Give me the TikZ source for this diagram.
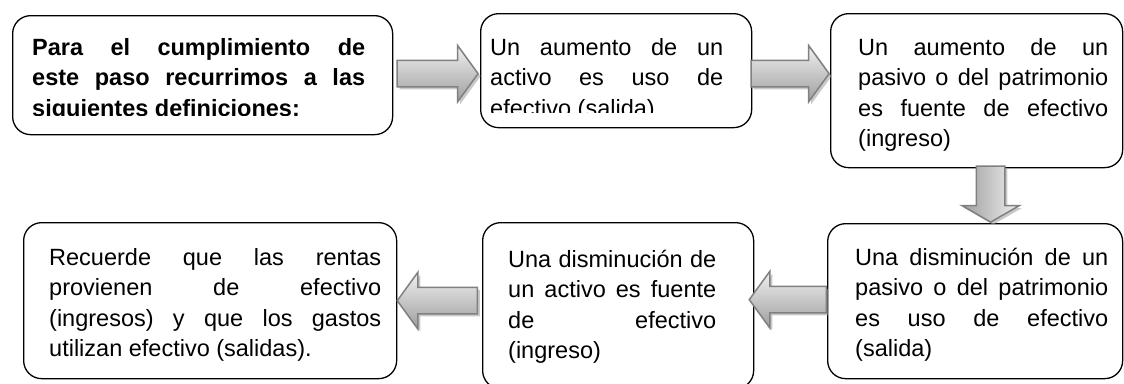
\documentclass[tikz,border=0pt]{standalone}
\usepackage{fontspec}
\setmainfont{Liberation Sans}
\usetikzlibrary{shapes.arrows,shadows,calc}
\newcommand\flowfont{\fontsize{23.5}{30.5}\selectfont}
\tolerance=10000 \hbadness=10000
\hyphenpenalty=10000 \exhyphenpenalty=10000

\begin{document}
\begin{tikzpicture}[x=1pt,y=-1pt,
  box/.style={draw,line width=1.3pt,rounded corners=18pt,anchor=north west,inner sep=0pt},
  txt/.style={anchor=base west,inner sep=0pt,align=justify,font=\flowfont},
  big arrow/.style={single arrow,single arrow head extend=15pt,single arrow tip angle=108,
    inner sep=12.5pt,draw=black!50,line width=1.5pt,
    top color=black!6,bottom color=black!38,
    drop shadow={shadow xshift=2.5pt,shadow yshift=-2.5pt,fill=black!35,opacity=0.6}}]
  \path[use as bounding box,fill=white] (0,0) rectangle (1124,383);

  \node[box,minimum width=380pt,minimum height=119pt] (b_1) at (12,15) {};
  \node[box,minimum width=271pt,minimum height=114pt] (b_2) at (480,13) {};
  \node[box,minimum width=292pt,minimum height=154pt] (b_3) at (830,13) {};
  \node[box,minimum width=373pt,minimum height=156pt] (b_4) at (23,222) {};
  \node[box,minimum width=271pt,minimum height=166pt] (b_5) at (482,222) {};
  \node[box,minimum width=295pt,minimum height=155pt] (b_6) at (827,223) {};

  \begin{scope}
    \clip (12,15) rectangle (392,115);
    \node[txt,text width=333pt,font=\flowfont\bfseries] (t_1) at (32,55)
      {Para el cumplimiento de\linebreak este paso recurrimos a las\linebreak siguientes definiciones:};
  \end{scope}
  \begin{scope}
    \clip (480,13) rectangle (751,112);
    \node[txt,text width=233pt] (t_2) at (490,55)
      {Un aumento de un\linebreak activo es uso de\linebreak efectivo (salida)};
  \end{scope}
  \node[txt,text width=250pt] (t_3) at (858,55)
    {Un aumento de un\linebreak pasivo o del patrimonio\linebreak es fuente de efectivo\linebreak (ingreso)};
  \node[txt,text width=332pt] (t_4) at (49,265)
    {Recuerde que las rentas\linebreak provienen de efectivo\linebreak (ingresos) y que los gastos\linebreak utilizan efectivo (salidas).};
  \node[txt,text width=208pt] (t_5) at (508,267)
    {Una disminución de\linebreak un activo es fuente\linebreak de efectivo\linebreak (ingreso)};
  \node[txt,text width=253pt] (t_6) at (855,265)
    {Una disminución de un\linebreak pasivo o del patrimonio\linebreak es uso de efectivo\linebreak (salida)};

  \node[big arrow,minimum height=81pt,anchor=tip] (a_12) at ($(b_2.west)+(-1,3)$) {};
  \node[big arrow,minimum height=78pt,anchor=tip] (a_23) at ($(b_3.west)+(0,-17)$) {};
  \node[big arrow,minimum height=56pt,inner sep=13.5pt,single arrow head extend=14.5pt,
    single arrow tip angle=120,shape border rotate=270,left color=black!38,right color=black!6,
    anchor=tip] (a_36) at ($(b_6.north)+(15.5,0)$) {};
  \node[big arrow,minimum height=77pt,shape border rotate=180,anchor=tail] (a_65) at ($(b_6.west)+(0,-1.5)$) {};
  \node[big arrow,minimum height=80pt,shape border rotate=180,anchor=tail] (a_54) at ($(b_5.west)+(-4,-5)$) {};
\end{tikzpicture}
\end{document}
